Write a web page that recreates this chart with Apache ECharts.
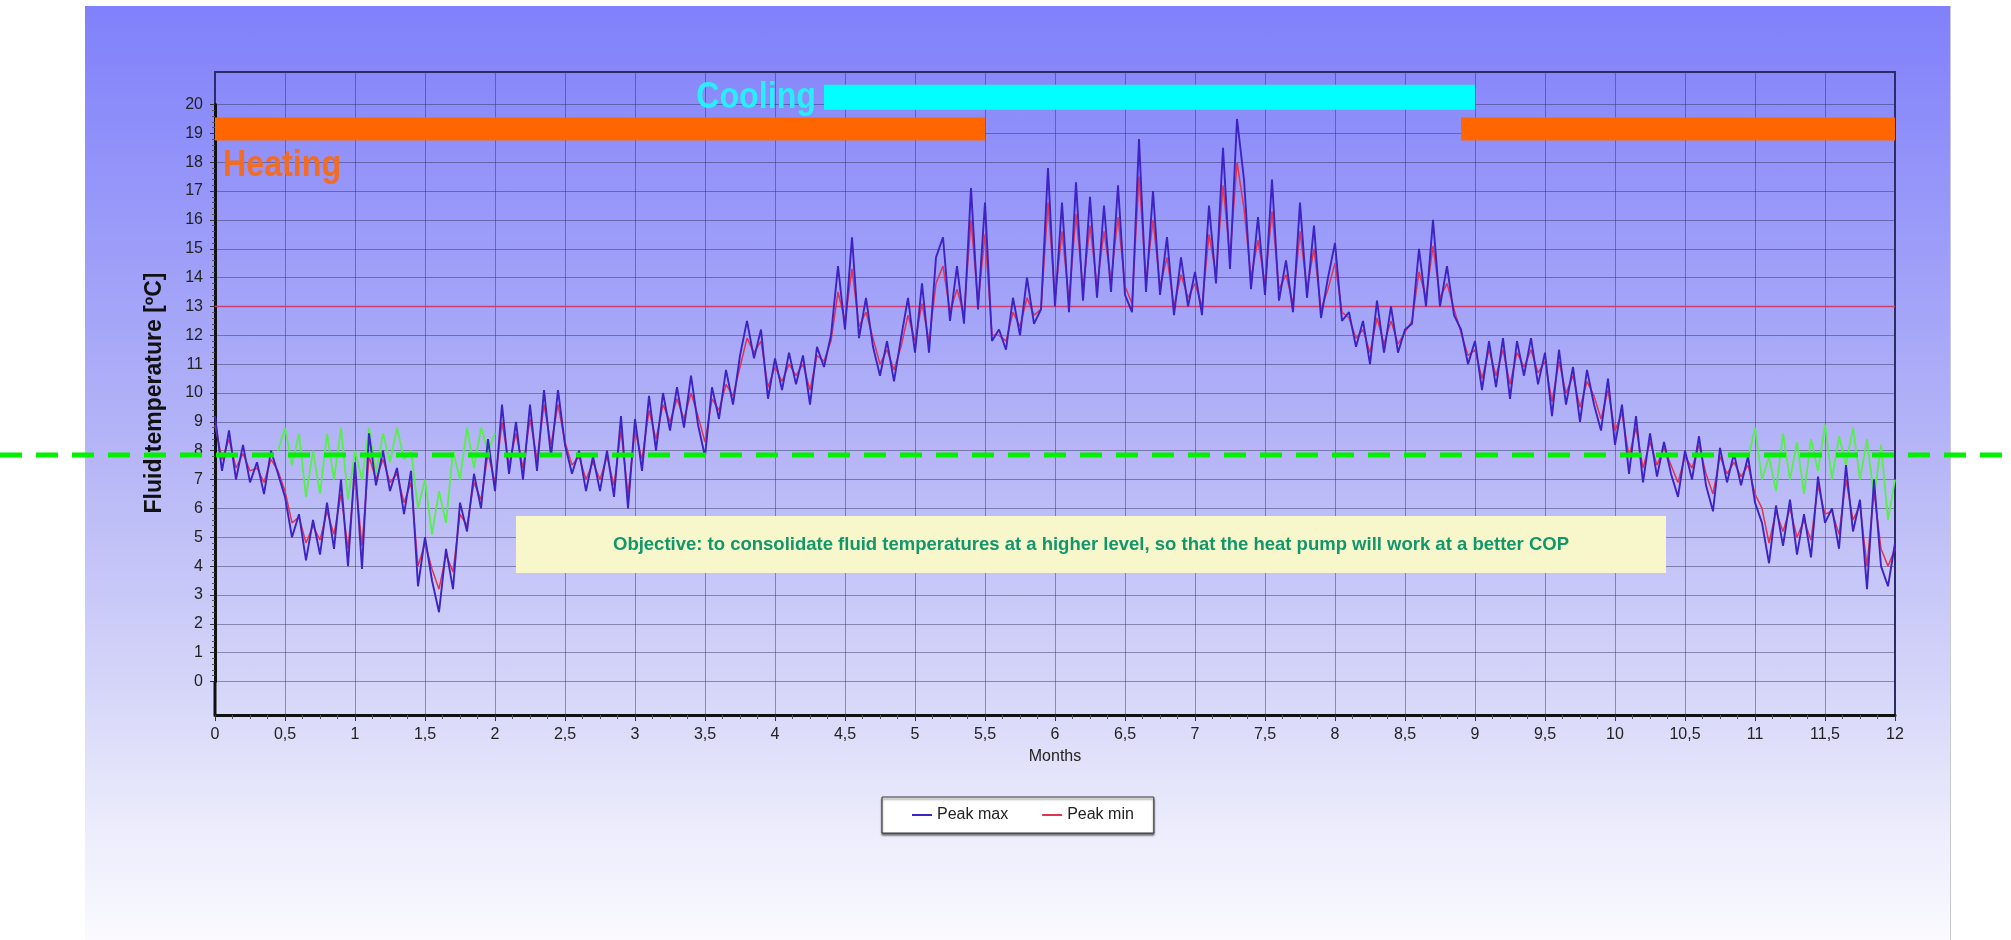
<!DOCTYPE html>
<html><head><meta charset="utf-8">
<script src="https://cdn.jsdelivr.net/npm/echarts@6/dist/echarts.min.js"></script>
<style>
html,body{margin:0;padding:0;background:#fff;}
#wrap{position:relative;width:2011px;height:940px;overflow:hidden;background:#fff;}
#panel{position:absolute;left:85px;top:6px;width:1865px;height:934px;
  background:linear-gradient(to bottom,#8080fb 0%,#9c9cf9 25%,#b8b8f7 50%,#d4d4f9 72%,#ececfc 88%,#fafaff 100%);
  border-right:1px solid #c8c8d8;}
#chart{position:absolute;left:0;top:0;width:2011px;height:940px;}
</style>
</head><body>
<div id="wrap"><div id="panel"></div><div id="chart"></div></div>
<script>
// ---------------- data ----------------
const STEP = 0.05; // months between samples
const peakMax = [
 9.2,7.3,8.7,7.0,8.2,6.9,7.6,6.5,8.0,7.2,
 6.4,5.0,5.8,4.2,5.6,4.4,6.2,4.6,7.0,4.0,
 7.6,3.9,8.6,6.8,8.0,6.6,7.4,5.8,7.3,3.3,
 5.0,3.5,2.4,4.6,3.2,6.2,5.2,7.2,6.0,8.4,
 6.6,9.6,7.2,9.0,7.0,9.6,7.3,10.1,7.8,10.1,
 8.2,7.2,8.0,6.6,7.8,6.6,8.0,6.4,9.2,6.0,
 9.1,7.3,9.9,8.0,10.0,8.7,10.2,8.8,10.6,8.9,
 7.8,10.2,9.1,10.8,9.6,11.3,12.5,11.2,12.2,9.8,
 11.2,10.1,11.4,10.3,11.3,9.6,11.6,10.9,12.0,14.4,
 12.2,15.4,11.9,13.3,11.6,10.6,11.8,10.4,11.9,13.3,
 11.4,13.8,11.4,14.7,15.4,12.5,14.4,12.4,17.1,12.9,
 16.6,11.8,12.2,11.5,13.3,12.0,14.0,12.4,12.9,17.8,
 13.0,16.6,12.8,17.3,13.2,16.8,13.3,16.5,13.5,17.2,
 13.4,12.8,18.8,13.5,17.0,13.4,15.4,12.7,14.7,13.0,
 14.2,12.7,16.5,13.8,18.5,14.3,19.5,17.4,13.6,16.1,
 13.4,17.4,13.2,14.6,12.8,16.6,13.3,15.8,12.6,14.0,
 15.2,12.5,12.8,11.6,12.5,11.0,13.2,11.4,13.0,11.4,
 12.2,12.4,15.0,13.0,16.0,13.0,14.4,12.7,12.2,11.0,
 11.8,10.1,11.8,10.2,11.9,9.8,11.8,10.6,11.9,10.3,
 11.4,9.2,11.5,9.6,10.9,9.0,10.8,9.6,8.7,10.5,
 8.2,9.6,7.2,9.2,6.9,8.6,7.1,8.3,7.2,6.4,
 8.0,7.0,8.5,6.8,5.9,8.1,6.9,7.9,6.8,7.8,
 6.2,5.5,4.1,6.1,4.7,6.3,4.4,5.8,4.3,7.1,
 5.5,6.0,4.6,7.5,5.2,6.3,3.2,7.0,4.0,3.3,
 4.8
];
const peakMin = [
 8.9,7.7,8.4,7.4,7.9,7.3,7.4,6.9,7.7,7.3,
 6.6,5.5,5.7,4.8,5.4,4.9,5.9,5.1,6.5,4.6,
 7.2,4.7,7.8,7.0,7.7,6.9,7.2,6.2,6.9,4.0,
 4.8,3.9,3.2,4.4,3.8,5.8,5.4,6.9,6.3,7.9,
 6.9,9.0,7.5,8.6,7.4,9.1,7.7,9.6,8.2,9.6,
 8.3,7.5,7.8,7.0,7.6,7.0,7.8,6.8,8.7,6.5,
 8.7,7.7,9.4,8.4,9.6,9.0,9.8,9.1,10.0,9.2,
 8.3,9.8,9.4,10.3,9.9,10.9,11.9,11.4,11.8,10.2,
 10.9,10.4,11.0,10.6,11.0,10.1,11.3,11.1,11.8,13.5,
 12.5,14.3,12.3,12.8,11.9,11.0,11.5,10.8,11.6,12.7,
 11.8,13.1,11.8,13.8,14.4,12.8,13.6,12.7,16.0,13.1,
 15.5,12.0,12.0,11.8,12.8,12.3,13.3,12.7,12.9,16.6,
 13.3,15.6,13.2,16.2,13.6,15.8,13.7,15.6,13.9,16.1,
 13.7,13.1,17.5,13.9,16.0,13.7,14.7,13.0,14.1,13.3,
 13.8,13.0,15.5,14.1,17.2,14.7,18.0,16.4,14.0,15.3,
 13.8,16.3,13.6,14.1,13.1,15.6,13.6,15.0,12.9,13.6,
 14.5,12.8,12.6,11.9,12.2,11.4,12.6,11.7,12.5,11.7,
 12.1,12.5,14.2,13.3,15.1,13.3,13.8,12.9,12.1,11.3,
 11.5,10.5,11.5,10.6,11.5,10.3,11.4,10.9,11.5,10.7,
 11.1,9.7,11.1,10.0,10.6,9.5,10.4,9.9,9.1,10.1,
 8.7,9.3,7.8,8.8,7.4,8.3,7.5,8.1,7.5,6.9,
 7.8,7.4,8.2,7.2,6.5,7.8,7.2,7.6,7.1,7.5,
 6.5,6.0,4.8,5.9,5.2,6.0,5.0,5.6,4.9,6.8,
 5.8,5.9,5.1,7.0,5.6,6.1,4.0,6.6,4.6,4.0,
 4.6
];
// consolidated (objective) fluid temperatures, winter parts
const greenAStart = 0.45;
const greenA = [8.0,8.8,7.5,8.6,6.4,8.0,6.5,8.6,7.0,8.8,6.3,8.0,7.0,8.8,
  7.2,8.6,7.6,8.8,7.7,8.0,6.0,7.0,5.1,6.6,5.5,8.0,7.0,8.8,7.4,8.8,8.0,8.6];
const greenBStart = 10.95;
const greenB = [7.7,8.8,7.0,7.8,6.6,8.6,7.0,8.3,6.5,8.4,7.3,8.9,7.0,
  8.5,7.5,8.8,7.0,8.4,6.4,8.2,5.6,7.0];
const heatingPeriods = [[0, 5.5], [8.9, 12]];
const coolingPeriods = [[4.35, 9.0]];
const heatingLevel = 19.15;
const coolingLevel = 20.25;
const thresholdValue = 13;
const targetValue = 7.85;
const seriesNames = ['Peak max', 'Peak min'];
const texts = {
  yTitle: 'Fluid temperature [ºC]',
  xTitle: 'Months',
  heating: 'Heating',
  cooling: 'Cooling',
  note: 'Objective: to consolidate fluid temperatures at a higher level, so that the heat pump will work at a better COP'
};

// ---------------- chart ----------------
const FONT = '"Liberation Sans", Arial, sans-serif';
const toPairs = (arr, start) => arr.map((v, i) => [Math.round((start + i * STEP) * 1000) / 1000, v]);

const gridLine = {color: 'rgba(45,45,85,0.45)', width: 1};
const series = [];
[[greenA, greenAStart], [greenB, greenBStart]].forEach(([arr, st], k) => {
  series.push({name: 'consolidated' + k, type: 'line', xAxisIndex: 1, yAxisIndex: 1, z: 2,
    data: toPairs(arr, st), showSymbol: false, symbol: 'none',
    lineStyle: {color: '#55f04a', width: 1.8}});
});
series.push({name: 'threshold', type: 'line', xAxisIndex: 1, yAxisIndex: 1, z: 3,
  data: [[0, thresholdValue], [12, thresholdValue]], symbol: 'none',
  lineStyle: {color: '#cc3f72', width: 1.5}});
series.push({name: seriesNames[1], type: 'line', xAxisIndex: 1, yAxisIndex: 1, z: 3,
  data: toPairs(peakMin, 0), showSymbol: false, symbol: 'none',
  itemStyle: {color: '#e2334f'}, lineStyle: {color: '#e2334f', width: 1.5}});
series.push({name: seriesNames[0], type: 'line', xAxisIndex: 1, yAxisIndex: 1, z: 4,
  data: toPairs(peakMax, 0), showSymbol: false, symbol: 'none',
  itemStyle: {color: '#3d22c4'}, lineStyle: {color: '#3d22c4', width: 1.9}});
heatingPeriods.forEach((p, k) => series.push({name: 'heating' + k, type: 'line', xAxisIndex: 1, yAxisIndex: 1, z: 5,
  clip: false, data: [[p[0], heatingLevel], [p[1], heatingLevel]], symbol: 'none',
  lineStyle: {color: '#ff6600', width: 23, cap: 'butt'}}));
coolingPeriods.forEach((p, k) => series.push({name: 'cooling' + k, type: 'line', xAxisIndex: 1, yAxisIndex: 1, z: 5,
  clip: false, data: [[p[0], coolingLevel], [p[1], coolingLevel]], symbol: 'none',
  lineStyle: {color: '#00ffff', width: 25, cap: 'butt'}}));

const option = {
  animation: false,
  textStyle: {fontFamily: FONT},
  grid: [
    {left: 215, right: 116, top: 72, bottom: 225, show: true, borderColor: '#2c2c66', borderWidth: 2, backgroundColor: 'transparent'},
    {left: 215, right: 116, top: 104.5, bottom: 258.5, show: false}
  ],
  xAxis: [
    {gridIndex: 0, type: 'value', min: 0, max: 12, interval: 0.5, position: 'bottom',
     name: texts.xTitle, nameLocation: 'middle', nameGap: 34,
     nameTextStyle: {fontSize: 16, color: '#222', fontFamily: FONT},
     axisLine: {show: true, onZero: false, lineStyle: {color: '#111', width: 3}},
     axisTick: {show: true, length: 6, lineStyle: {color: '#333'}},
     minorTick: {show: true, splitNumber: 4, length: 4, lineStyle: {color: '#555'}},
     axisLabel: {fontSize: 16, color: '#222', margin: 12, fontFamily: FONT,
       formatter: v => String(v).replace('.', ',')},
     splitLine: {show: true, lineStyle: gridLine}},
    {gridIndex: 1, type: 'value', min: 0, max: 12, show: false}
  ],
  yAxis: [
    {gridIndex: 0, type: 'value', min: 0, max: 1, show: false},
    {gridIndex: 1, type: 'value', min: 0, max: 20, interval: 1,
     axisLine: {show: true, onZero: false, lineStyle: {color: '#111', width: 3}},
     axisTick: {show: true, length: 5, lineStyle: {color: '#333'}},
     minorTick: {show: true, splitNumber: 5, length: 3, lineStyle: {color: '#555'}},
     axisLabel: {fontSize: 16, color: '#222', margin: 12, fontFamily: FONT},
     splitLine: {show: true, lineStyle: gridLine}}
  ],
  legend: {data: seriesNames, left: 882, top: 797, orient: 'horizontal',
    backgroundColor: '#ffffff', borderColor: '#333', borderWidth: 1,
    padding: [10, 20, 10, 30], itemGap: 34, itemWidth: 20, itemHeight: 2, icon: 'rect',
    textStyle: {fontSize: 16, color: '#222', fontFamily: FONT},
    shadowColor: 'rgba(0,0,0,0.55)', shadowOffsetY: 2, shadowBlur: 2},
  series: series
};

const chart = echarts.init(document.getElementById('chart'));
chart.setOption(option);

const px = (x, y) => chart.convertToPixel({xAxisIndex: 1, yAxisIndex: 1}, [x, y]);
const pZero = px(0, 0);
const pTarget = px(0, targetValue);
const pHeat = px(heatingPeriods[0][0], heatingLevel);
const pCool = px(coolingPeriods[0][0], coolingLevel);
const pTop = px(0, 20);
const frameBottom = 940 - 225;

chart.setOption({
  graphic: {elements: [
    {type: 'line', z: 60, shape: {x1: pZero[0], y1: pZero[1], x2: pZero[0], y2: frameBottom},
     style: {stroke: '#111', lineWidth: 3}},
    {type: 'text', z: 60, x: 155, y: (pZero[1] + pTop[1]) / 2, rotation: Math.PI / 2,
     style: {text: texts.yTitle, x: 0, y: 0, fontSize: 23, fontWeight: 'bold', fontFamily: FONT,
       fill: '#111', align: 'center', verticalAlign: 'middle'}},
    {type: 'text', z: 60, x: pHeat[0] + 8, y: pHeat[1] + 37, scaleX: 0.87,
     style: {text: texts.heating, x: 0, y: 0, fontSize: 37, fontWeight: 'bold', fontFamily: FONT,
       fill: '#f26c22', align: 'left', verticalAlign: 'middle'}},
    {type: 'text', z: 60, x: pCool[0] - 8, y: pCool[1] + 1, scaleX: 0.87,
     style: {text: texts.cooling, x: 0, y: 0, fontSize: 37, fontWeight: 'bold', fontFamily: FONT,
       fill: '#28eefc', align: 'right', verticalAlign: 'middle'}},
    {type: 'rect', z: 50, shape: {x: 516, y: 516, width: 1150, height: 57},
     style: {fill: '#f7f7cb'}},
    {type: 'text', z: 51, x: 1091, y: 545,
     style: {text: texts.note, x: 0, y: 0, fontSize: 18.5, fontWeight: 'bold', fontFamily: FONT,
       fill: '#12966c', align: 'center', verticalAlign: 'middle'}},
    {type: 'line', z: 100, shape: {x1: 0, y1: pTarget[1], x2: 2011, y2: pTarget[1]},
     style: {stroke: '#00f000', lineWidth: 5, lineDash: [22, 14]}}
  ]}
});
</script>
</body></html>
